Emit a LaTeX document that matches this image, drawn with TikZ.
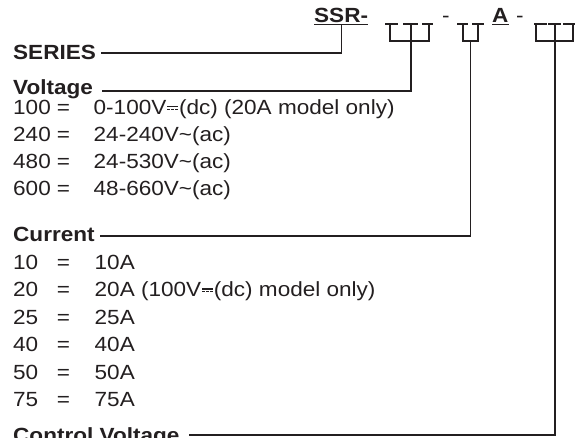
\documentclass[tikz,border=0pt]{standalone}
\usepackage{fontspec}
\setmainfont{Liberation Sans}
\usepackage{graphicx}
\usepackage{tikz}
\definecolor{inkgray}{HTML}{231F20}
% direct current sign: full bar over three dashes
\newcommand{\dcsym}{\kern0.04em\rlap{\rule[0.34em]{0.48em}{0.065em}}%
  \rule[0.2em]{0.12em}{0.065em}\kern0.06em\rule[0.2em]{0.12em}{0.065em}%
  \kern0.06em\rule[0.2em]{0.12em}{0.065em}\kern0.04em}
% the print is set a little wide
\newcommand{\wide}[1]{\scalebox{1.1}[1]{#1}}

\begin{document}
\begin{tikzpicture}[
  x=1pt, y=-1pt,
  txt/.style={inner sep=0pt, anchor=base west, text=inkgray,
              font=\fontsize{20.5}{24}\selectfont},
  head/.style={txt, font=\fontsize{20.5}{24}\selectfont\bfseries},
  link/.style={draw=inkgray, line width=1.1pt},
]
  \useasboundingbox (0,0) rectangle (581,437);
  \clip (0,0) rectangle (581,437);
  % part number
  \node[head] (ssr) at (314,22) {\wide{SSR-}};
  \draw[link] ([yshift=-2.5pt]ssr.base west) -- ([yshift=-2.5pt]ssr.base east);
  \node[txt] (dashone) at (442,22) {\wide{-}};
  \node[head] (amp) at (492,22) {\wide{A}};
  \draw[link] ([yshift=-2.5pt]amp.base west) -- ([yshift=-2.5pt]amp.base east);
  \node[txt] (dashtwo) at (516,22) {\wide{-}};
  % digit slots
  \foreach \a/\b in {385/398, 403/418, 422/433, 457/468, 472/484,
                     534/547, 548/561, 563/575} {
    \draw[link] (\a,24) -- (\b,24);
  }
  \draw[link] (390,24) -- (390,41) -- (429,41) -- (429,24);
  \draw[link] (411,24) -- (411,41);
  \coordinate (vbar) at (411,41);
  \draw[link] (463,24) -- (463,41) -- (478,41) -- (478,24);
  \coordinate (cbar) at (470.5,41);
  \draw[link] (536,24) -- (536,41) -- (573,41) -- (573,24);
  \draw[link] (555,24) -- (555,41);
  \coordinate (cvbar) at (555,41);
  % headings
  \node[head] (series) at (13,59) {\wide{SERIES}};
  \node[head] (volt) at (13,94) {\wide{Voltage}};
  \node[head] (curr) at (13,241) {\wide{Current}};
  \node[head] (ctrl) at (13,442) {\wide{Control Voltage}};
  \draw[link] ([yshift=-2.5pt]ssr.base) |- ([xshift=5pt,yshift=6pt]series.base east);
  \draw[link] (vbar) |- ([xshift=9pt,yshift=3pt]volt.base east);
  \draw[link] (cbar) |- ([xshift=5pt,yshift=5pt]curr.base east);
  \draw[link] (cvbar) |- ([xshift=9pt,yshift=7pt]ctrl.base east);
  % voltage codes
  \foreach \k/\v/\y in {100/{0-100V\dcsym(dc) (20A model only)}/114,
                        240/{24-240V\textasciitilde(ac)}/141,
                        480/{24-530V\textasciitilde(ac)}/168,
                        600/{48-660V\textasciitilde(ac)}/195} {
    \node[txt] (vk\k) at (13,\y) {\wide{\k}};
    \node[txt, anchor=base] (ve\k) at (63.5,\y) {\wide{=}};
    \node[txt] (vv\k) at (93.5,\y) {\wide{\v}};
  }
  % current codes
  \foreach \k/\v/\y in {10/10A/269, 20/{20A (100V\dcsym(dc) model only)}/296.5,
                        25/25A/324, 40/40A/351.5, 50/50A/379, 75/75A/406} {
    \node[txt] (ck\k) at (13,\y) {\wide{\k}};
    \node[txt, anchor=base] (ce\k) at (63.5,\y) {\wide{=}};
    \node[txt] (cv\k) at (94.5,\y) {\wide{\v}};
  }
\end{tikzpicture}
\end{document}
